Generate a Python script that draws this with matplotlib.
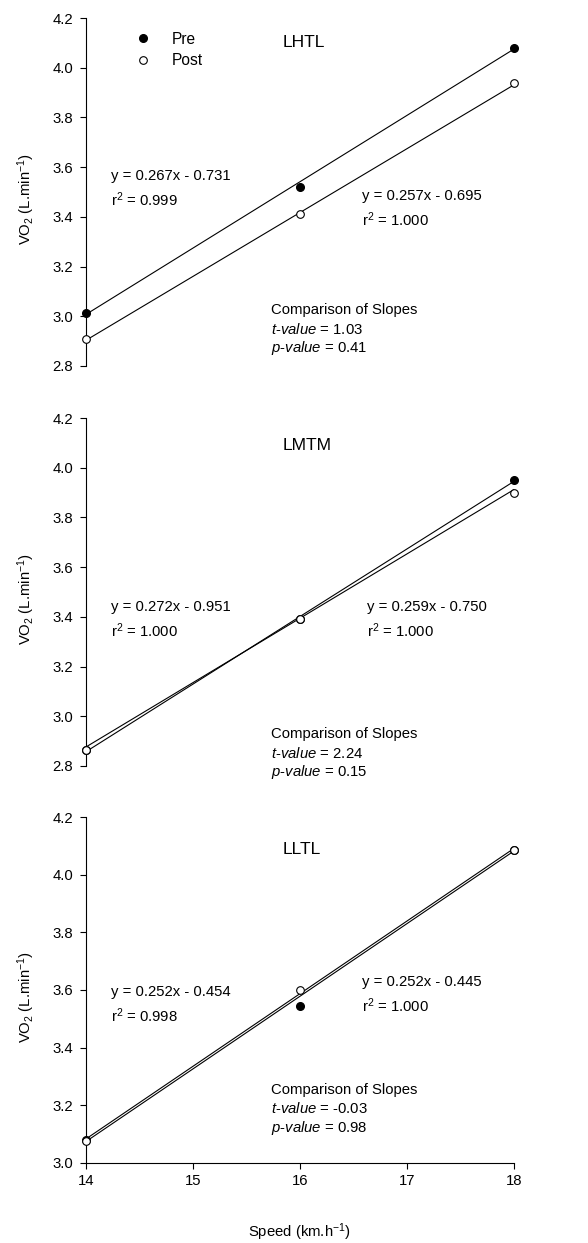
import matplotlib
matplotlib.use('Agg')
import matplotlib.pyplot as plt
import numpy as np

plt.rcParams['font.family'] = ['Liberation Sans', 'DejaVu Sans']
plt.rcParams['mathtext.fontset'] = 'custom'
plt.rcParams['mathtext.rm'] = 'Liberation Sans'
plt.rcParams['mathtext.it'] = 'Liberation Sans:italic'
plt.rcParams['mathtext.default'] = 'regular'

# dados
speeds = [14, 16, 18]
groups = ['LHTL', 'LMTM', 'LLTL']

pre_vals = [[3.015, 3.52, 4.08],
            [2.865, 3.39, 3.95],
            [3.08, 3.545, 4.085]]
post_vals = [[2.91, 3.41, 3.94],
             [2.865, 3.39, 3.90],
             [3.075, 3.60, 4.085]]

pre_slope = [0.267, 0.272, 0.252]
pre_icpt = [-0.731, -0.951, -0.454]
pre_r2 = ['0.999', '1.000', '0.998']
post_slope = [0.257, 0.259, 0.252]
post_icpt = [-0.695, -0.750, -0.445]
post_r2 = ['1.000', '1.000', '1.000']

t_values = ['1.03', '2.24', '-0.03']
p_values = ['0.41', '0.15', '0.98']

y_ranges = [(2.8, 4.2), (2.8, 4.2), (3.0, 4.2)]

# posicoes dos textos (fracao do eixo)
title_y = [0.931, 0.92, 0.905]
left_eq_y = [0.546, 0.457, 0.494]
right_eq = [(0.645, 0.489), (0.656, 0.457), (0.645, 0.523)]
comp_y = [0.161, 0.092, 0.211]

fig = plt.figure(figsize=(5.88, 12.43), dpi=100)
rects = [[0.146, 0.7056, 0.728, 0.2799],
         [0.146, 0.3838, 0.728, 0.2799],
         [0.146, 0.0644, 0.728, 0.2783]]

fs = 10.7
for i in range(3):
    ax = fig.add_axes(rects[i])
    xs = np.array([14, 18])
    ax.plot(xs, pre_slope[i] * xs + pre_icpt[i], color='black', lw=0.8, zorder=2)
    ax.plot(xs, post_slope[i] * xs + post_icpt[i], color='black', lw=0.8, zorder=2)
    ax.plot(speeds, pre_vals[i], 'o', color='black', ms=5.5, mec='black',
            clip_on=False, zorder=3, label='Pre')
    ax.plot(speeds, post_vals[i], 'o', color='white', ms=5.5, mec='black', mew=0.8,
            clip_on=False, zorder=4, label='Post')

    ax.set_xlim(14, 18)
    ax.set_ylim(*y_ranges[i])
    ax.set_yticks(np.arange(y_ranges[i][0], 4.21, 0.2))
    ax.set_yticklabels(['%.1f' % v for v in np.arange(y_ranges[i][0], 4.21, 0.2)])
    for s in ['top', 'right']:
        ax.spines[s].set_visible(False)
    ax.spines['left'].set_linewidth(0.8)
    ax.tick_params(axis='y', direction='out', length=4, width=0.8, pad=5, labelsize=fs)
    if i < 2:
        ax.spines['bottom'].set_visible(False)
        ax.set_xticks([])
    else:
        ax.spines['bottom'].set_linewidth(0.8)
        ax.set_xticks([14, 15, 16, 17, 18])
        ax.tick_params(axis='x', direction='out', length=4, width=0.8, pad=4, labelsize=fs)
        ax.set_xlabel('Speed (km.h$^{-1}$)', fontsize=fs)
        ax.xaxis.set_label_coords(0.5, -0.17)

    ax.set_ylabel('VO$_2$ (L.min$^{-1}$)', fontsize=fs)
    ax.yaxis.set_label_coords(-0.113, 0.48)

    ax.text(0.46, title_y[i], groups[i], transform=ax.transAxes, fontsize=12.6,
            ha='left', va='center')
    ax.text(0.058, left_eq_y[i],
            'y = %.3fx - %.3f' % (pre_slope[i], -pre_icpt[i]),
            transform=ax.transAxes, fontsize=fs, va='center')
    ax.text(0.058, left_eq_y[i] - 0.068, 'r$^2$ = ' + pre_r2[i],
            transform=ax.transAxes, fontsize=fs, va='center')
    ax.text(right_eq[i][0], right_eq[i][1],
            'y = %.3fx - %.3f' % (post_slope[i], -post_icpt[i]),
            transform=ax.transAxes, fontsize=fs, va='center')
    ax.text(right_eq[i][0], right_eq[i][1] - 0.068, 'r$^2$ = ' + post_r2[i],
            transform=ax.transAxes, fontsize=fs, va='center')

    ax.text(0.432, comp_y[i], 'Comparison of Slopes', transform=ax.transAxes,
            fontsize=fs, va='center')
    ax.text(0.432, comp_y[i] - 0.055, '$\\mathit{t}$-$\\mathit{value}$ = ' + t_values[i],
            transform=ax.transAxes, fontsize=fs, va='center')
    ax.text(0.432, comp_y[i] - 0.11, '$\\mathit{p}$-$\\mathit{value}$ = ' + p_values[i],
            transform=ax.transAxes, fontsize=fs, va='center')

    if i == 0:
        ax.legend(loc='upper left', bbox_to_anchor=(0.116, 0.96), frameon=False,
                  fontsize=11.2, handlelength=1, handletextpad=1.3,
                  borderpad=0, borderaxespad=0, labelspacing=0.42)

plt.savefig('out.png', dpi=100)
